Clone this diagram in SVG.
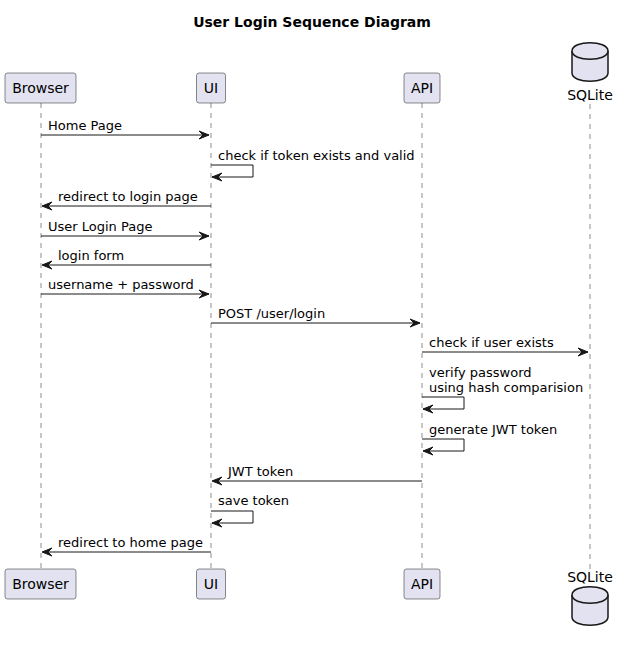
<svg xmlns="http://www.w3.org/2000/svg" width="624" height="647" viewBox="0 0 624 647">
<defs>
<style>
.box{fill:#E2E2F0;stroke:#181818;stroke-width:0.5}
.db{fill:#E2E2F0;stroke:#181818;stroke-width:1.5}
.life{stroke:#181818;stroke-width:0.5;stroke-dasharray:5,5;fill:none}
.msg{stroke:#181818;stroke-width:1;fill:none}
.head{fill:#181818;stroke:#181818;stroke-width:1}
.pt{font-family:"DejaVu Sans","Liberation Sans",sans-serif;font-size:14px;fill:#000}
.mt{font-family:"DejaVu Sans","Liberation Sans",sans-serif;font-size:13px;fill:#000}
.title{font-family:"DejaVu Sans","Liberation Sans",sans-serif;font-size:14px;font-weight:bold;fill:#000}
</style>
</defs>
<rect width="624" height="647" fill="#FFFFFF"/>
<text class="title" x="312" y="27" text-anchor="middle">User Login Sequence Diagram</text>

<g id="lifelines">
<line class="life" x1="41" y1="103" x2="41" y2="569"/>
<line class="life" x1="211" y1="103" x2="211" y2="569"/>
<line class="life" x1="422" y1="103" x2="422" y2="569"/>
<line class="life" x1="590" y1="104" x2="590" y2="570"/>
</g>

<g id="Browser">
<rect class="box" x="5" y="73" width="71" height="30" rx="2.5"/>
<text class="pt" x="40.5" y="93" text-anchor="middle">Browser</text>
<rect class="box" x="5" y="569" width="71" height="30" rx="2.5"/>
<text class="pt" x="40.5" y="589" text-anchor="middle">Browser</text>
</g>
<g id="UI">
<rect class="box" x="196.5" y="73" width="29" height="30" rx="2.5"/>
<text class="pt" x="211" y="93" text-anchor="middle">UI</text>
<rect class="box" x="196.5" y="569" width="29" height="30" rx="2.5"/>
<text class="pt" x="211" y="589" text-anchor="middle">UI</text>
</g>
<g id="API">
<rect class="box" x="404" y="73" width="36" height="30" rx="2.5"/>
<text class="pt" x="422" y="93" text-anchor="middle">API</text>
<rect class="box" x="404" y="569" width="36" height="30" rx="2.5"/>
<text class="pt" x="422" y="589" text-anchor="middle">API</text>
</g>
<g id="SQLite">
<path class="db" d="M572,51 C572,40 608,40 608,51 L608,73 C608,84 572,84 572,73 Z"/>
<path class="db" d="M572,51 C572,62 608,62 608,51"/>
<text class="pt" x="590" y="100" text-anchor="middle">SQLite</text>
<text class="pt" x="590" y="582" text-anchor="middle">SQLite</text>
<path class="db" d="M572,595 C572,584 608,584 608,595 L608,617 C608,628 572,628 572,617 Z"/>
<path class="db" d="M572,595 C572,606 608,606 608,595"/>
</g>

<g id="connectors">
<!-- 1 Home Page -->
<line class="msg" x1="41" y1="135" x2="209" y2="135"/>
<polygon class="head" points="199,131 209,135 199,139 203,135"/>
<text class="mt" x="48" y="130">Home Page</text>
<!-- 2 self UI -->
<polyline class="msg" points="211,165 253,165 253,177 212,177"/>
<polygon class="head" points="222,173 212,177 222,181 218,177"/>
<text class="mt" x="218" y="160">check if token exists and valid</text>
<!-- 3 -->
<line class="msg" x1="43" y1="206" x2="211" y2="206"/>
<polygon class="head" points="52,202 42,206 52,210 48,206"/>
<text class="mt" x="58" y="201">redirect to login page</text>
<!-- 4 -->
<line class="msg" x1="41" y1="236" x2="209" y2="236"/>
<polygon class="head" points="199,232 209,236 199,240 203,236"/>
<text class="mt" x="48" y="231">User Login Page</text>
<!-- 5 -->
<line class="msg" x1="43" y1="265" x2="211" y2="265"/>
<polygon class="head" points="52,261 42,265 52,269 48,265"/>
<text class="mt" x="58" y="260">login form</text>
<!-- 6 -->
<line class="msg" x1="41" y1="294" x2="209" y2="294"/>
<polygon class="head" points="199,290 209,294 199,298 203,294"/>
<text class="mt" x="48" y="289">username + password</text>
<!-- 7 -->
<line class="msg" x1="211" y1="323" x2="420" y2="323"/>
<polygon class="head" points="410,319 420,323 410,327 414,323"/>
<text class="mt" x="218" y="318">POST /user/login</text>
<!-- 8 -->
<line class="msg" x1="422" y1="352" x2="588" y2="352"/>
<polygon class="head" points="578,348 588,352 578,356 582,352"/>
<text class="mt" x="429" y="347">check if user exists</text>
<!-- 9 self API -->
<polyline class="msg" points="422,397 464,397 464,409 423,409"/>
<polygon class="head" points="433,405 423,409 433,413 429,409"/>
<text class="mt" x="429" y="377">verify password</text>
<text class="mt" x="429" y="392">using hash comparision</text>
<!-- 10 self API -->
<polyline class="msg" points="422,439 464,439 464,451 423,451"/>
<polygon class="head" points="433,447 423,451 433,455 429,451"/>
<text class="mt" x="429" y="434">generate JWT token</text>
<!-- 11 -->
<line class="msg" x1="213" y1="481" x2="422" y2="481"/>
<polygon class="head" points="222,477 212,481 222,485 218,481"/>
<text class="mt" x="228" y="476">JWT token</text>
<!-- 12 self UI -->
<polyline class="msg" points="211,511 253,511 253,523 212,523"/>
<polygon class="head" points="222,519 212,523 222,527 218,523"/>
<text class="mt" x="218" y="505">save token</text>
<!-- 13 -->
<line class="msg" x1="43" y1="552" x2="211" y2="552"/>
<polygon class="head" points="52,548 42,552 52,556 48,552"/>
<text class="mt" x="58" y="547">redirect to home page</text>
</g>
</svg>
